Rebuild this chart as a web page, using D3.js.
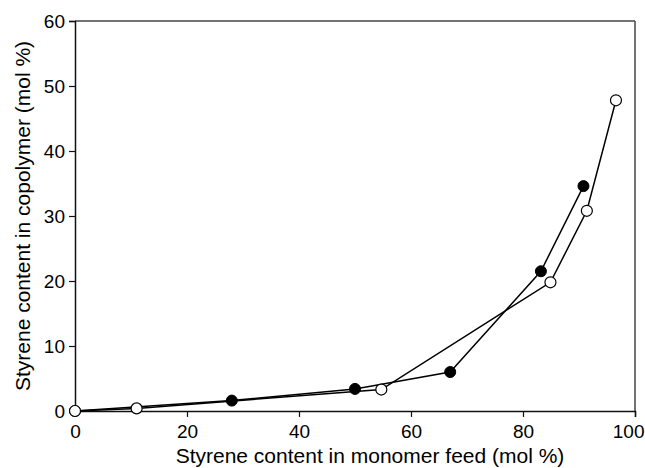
<!DOCTYPE html>
<html>
<head>
<meta charset="utf-8">
<script src="https://cdn.jsdelivr.net/npm/d3@7"></script>
<style>
  body { margin: 0; background: #fff; }
  svg { font-family: "Liberation Sans", Arial, sans-serif; }
</style>
</head>
<body>
<svg id="chart"></svg>
<script>
// feed (x) vs copolymer (y), mol % styrene
const filledX = [0, 28, 50, 67, 83.2, 90.8];
const filledY = [0, 1.6, 3.4, 6.0, 21.5, 34.6];
const openX = [0, 11, 54.7, 84.9, 91.4, 96.6];
const openY = [0, 0.4, 3.3, 19.8, 30.8, 47.8];
const xTicks = [0, 20, 40, 60, 80, 100];
const yTicks = [0, 10, 20, 30, 40, 50, 60];

const W = 645, H = 468;
const margin = {top: 21, right: 10, bottom: 57, left: 75};
const width = W - margin.left - margin.right,
      height = H - margin.top - margin.bottom;

const svg = d3.select("#chart").attr("width", W).attr("height", H);
const g = svg.append("g")
    .attr("transform", "translate(" + margin.left + "," + margin.top + ")");

const x = d3.scaleLinear().domain([0, 100]).range([0, width]);
const y = d3.scaleLinear().domain([0, 60]).range([height, 0]);

// frame: top and right edges
g.append("line").attr("x1", 0).attr("x2", width).attr("y1", 0).attr("y2", 0)
  .attr("stroke", "#444").attr("stroke-width", 1.5);
g.append("line").attr("x1", width).attr("x2", width).attr("y1", 0).attr("y2", height)
  .attr("stroke", "#444").attr("stroke-width", 1.5);

const xAxis = g.append("g")
    .attr("transform", "translate(0," + height + ")")
    .call(d3.axisBottom(x).tickValues(xTicks).tickSize(6).tickPadding(8));
const yAxis = g.append("g")
    .call(d3.axisLeft(y).tickValues(yTicks).tickSize(6).tickPadding(4));

[xAxis, yAxis].forEach(a => {
  a.select(".domain").attr("stroke", "#111").attr("stroke-width", 1.5);
  a.selectAll(".tick line").attr("stroke", "#111").attr("stroke-width", 1.2);
  a.selectAll(".tick text").attr("font-size", 19).attr("fill", "#000")
    .attr("font-family", "Liberation Sans, Arial, sans-serif");
});
// last x label pulled inside the page edge, as in the original
xAxis.selectAll(".tick text").filter(d => d === 100)
  .attr("text-anchor", "end").attr("x", 9);

// axis titles
svg.append("text")
  .attr("x", 370).attr("y", 463)
  .attr("text-anchor", "middle").attr("font-size", 21)
  .text("Styrene content in monomer feed (mol %)");
svg.append("text")
  .attr("transform", "translate(30," + (margin.top + height / 2) + ") rotate(-90)")
  .attr("text-anchor", "middle").attr("font-size", 21)
  .text("Styrene content in copolymer (mol %)");

const line = d3.line().x(d => x(d[0])).y(d => y(d[1]));
const filled = filledX.map((v, i) => [v, filledY[i]]);
const open = openX.map((v, i) => [v, openY[i]]);

[filled, open].forEach(s => {
  g.append("path").datum(s).attr("d", line)
    .attr("fill", "none").attr("stroke", "#000").attr("stroke-width", 1.5);
});

g.selectAll(".filled").data(filled).enter().append("circle")
  .attr("cx", d => x(d[0])).attr("cy", d => y(d[1])).attr("r", 5.5)
  .attr("fill", "#000").attr("stroke", "#000");
g.selectAll(".open").data(open).enter().append("circle")
  .attr("cx", d => x(d[0])).attr("cy", d => y(d[1])).attr("r", 5.5)
  .attr("fill", "#fff").attr("stroke", "#000").attr("stroke-width", 1.2);
</script>
</body>
</html>
